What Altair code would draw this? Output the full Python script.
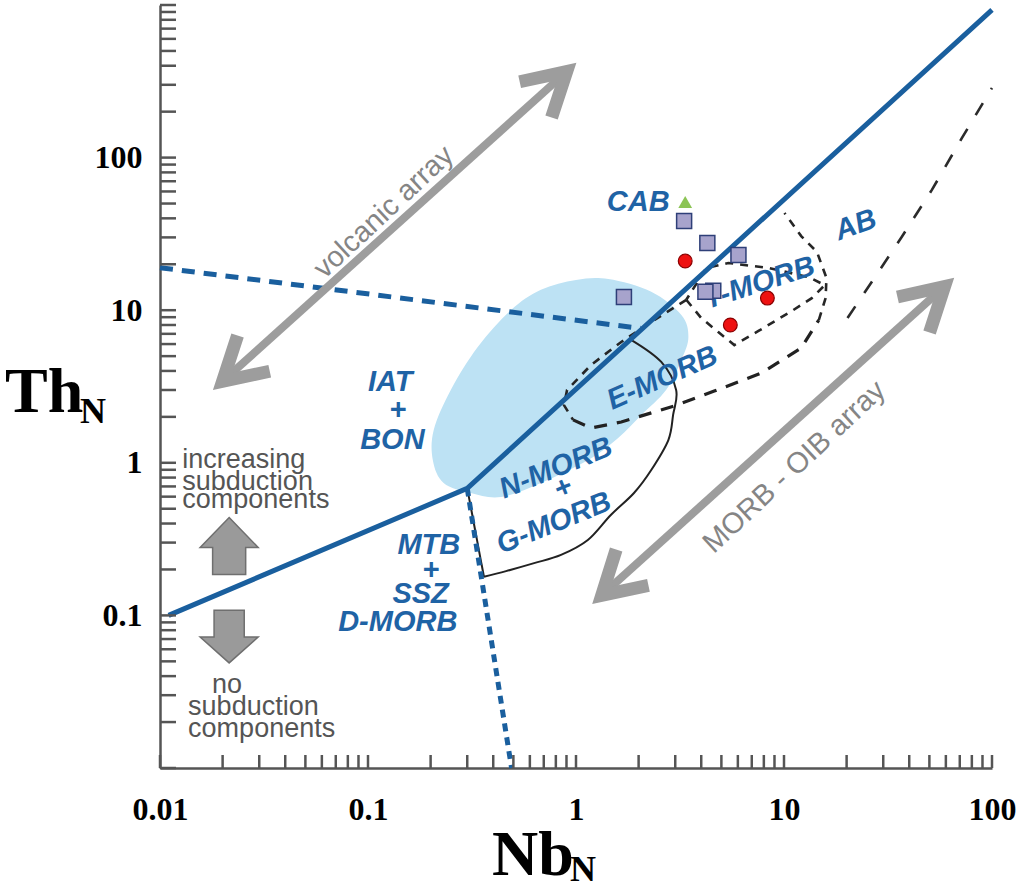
import altair as alt
import pandas as pd

# ---------------------------------------------------------------- scales
NB_DOMAIN = [0.01, 100]
TH_DOMAIN = [0.01, 1000]

NB_LABELS = [0.01, 0.1, 1, 10, 100]
TH_LABELS = [0.1, 1, 10, 100]
NB_TICKS = [k * 10.0 ** e for e in range(-2, 2) for k in range(1, 10)] + [100]
TH_TICKS = [k * 10.0 ** e for e in range(-2, 3) for k in range(1, 10)] + [1000]

# ---------------------------------------------------------------- colours
BLUE = "#1a5f9e"
LABEL_BLUE = "#1f63a5"
ARROW_GREY = "#9d9d9d"
AXIS_GREY = "#555555"
FIELD_FILL = "#bde2f4"

# ---------------------------------------------------------------- boundaries
# solid boundary of the MORB-OIB array
ARRAY_NB = [0.011, 0.30, 100]
ARRAY_TH = [0.10, 0.68, 930]
# dotted boundary below the kink
DOT_NB = [0.30, 0.49]
DOT_TH = [0.68, 0.01]
# dashed boundary from the Th axis
DASH_NB = [0.01, 2.05]
DASH_TH = [19.0, 7.6]

# IAT + BON field
IAT_NB = [0.205, 0.207, 0.250, 0.337, 0.486, 0.678, 1.0, 1.43, 2.30, 3.21,
          3.47, 3.21, 2.71, 2.06, 1.59, 1.14, 0.678, 0.436, 0.312, 0.231]
IAT_TH = [1.04, 1.64, 3.0, 5.74, 10.0, 13.6, 15.8, 16.0, 13.2, 9.3,
          6.67, 4.72, 3.0, 2.06, 1.45, 1.04, 0.738, 0.597, 0.634, 0.738]

# N-MORB + G-MORB field
NMORB_NB = [1.84, 2.57, 3.03, 2.93, 2.78, 2.30, 1.90, 1.47, 1.14, 0.847, 0.629, 0.461, 0.361]
NMORB_TH = [6.4, 4.58, 3.0, 2.06, 1.41, 0.897, 0.634, 0.455, 0.312, 0.249, 0.220, 0.195, 0.179]
NMORB_SIDE_NB = [0.361, 0.30]
NMORB_SIDE_TH = [0.179, 0.68]

# E-MORB field
EMORB_TOP_NB = [3.39, 2.30, 1.65, 1.18, 0.906, 0.875, 0.968]
EMORB_TOP_TH = [11.7, 8.37, 6.19, 4.37, 3.0, 2.39, 1.91]
EMORB_BASE_NB = [0.968, 1.18, 1.65, 2.97, 4.62, 7.79, 12.1, 14.7]
EMORB_BASE_TH = [1.91, 1.69, 1.85, 2.36, 2.95, 3.88, 5.65, 8.62]

# T-MORB field
TMORB_NB = [3.39, 4.00, 4.83, 5.77, 7.54, 10.9, 13.6, 15.7, 13.1, 8.42, 5.40, 4.23, 3.39]
TMORB_TH = [11.7, 8.89, 7.19, 5.91, 7.31, 9.88, 12.0, 14.6, 16.5, 18.9, 20.4, 18.9, 11.7]

# AB field edge
AB_NB = [14.7, 15.85, 16.0, 14.4, 12.1, 10.05]
AB_TH = [8.62, 12.0, 16.3, 24.1, 30.6, 43.4]

# OIB edge
OIB_NB = [20.2, 26.4, 36.8, 51.4, 71.6, 100]
OIB_TH = [8.89, 15.3, 30.2, 61.4, 134, 286]

# ---------------------------------------------------------------- trend arrows
VOLC_SHAFT_NB = [0.0200, 0.902]
VOLC_SHAFT_TH = [3.42, 366]
VOLC_HEAD_HI_NB = [0.536, 0.902, 0.763]
VOLC_HEAD_HI_TH = [314, 366, 183]
VOLC_HEAD_LO_NB = [0.0337, 0.0200, 0.0236]
VOLC_HEAD_LO_TH = [3.98, 3.42, 6.82]

OIBA_SHAFT_NB = [1.33, 59.1]
OIBA_SHAFT_TH = [0.1355, 14.3]
OIBA_HEAD_HI_NB = [35.1, 59.1, 50.1]
OIBA_HEAD_HI_TH = [12.2, 14.3, 7.15]
OIBA_HEAD_LO_NB = [2.23, 1.33, 1.56]
OIBA_HEAD_LO_TH = [0.1574, 0.1355, 0.270]

# ---------------------------------------------------------------- samples
CIRCLE_NB = [3.35, 5.52, 8.32]
CIRCLE_TH = [21.0, 8.0, 12.0]
SQUARE_NB = [3.31, 4.28, 6.04, 1.70, 4.57, 4.19]
SQUARE_TH = [38.4, 27.6, 23.0, 12.2, 13.4, 13.2]
TRIANGLE_NB = [3.35]
TRIANGLE_TH = [51.2]

# ---------------------------------------------------------------- field labels
FIELD_TEXT = ["CAB", "AB", "T-MORB", "E-MORB", "N-MORB", "+", "G-MORB",
              "IAT", "+", "BON", "MTB", "+", "SSZ", "D-MORB"]
FIELD_NB = [1.99, 22.1, 7.62, 2.6, 0.80, 0.865, 0.783,
            0.128, 0.139, 0.131, 0.196, 0.200, 0.179, 0.139]
FIELD_TH = [51.2, 36.2, 15.1, 3.6, 0.925, 0.684, 0.403,
            3.39, 2.22, 1.41, 0.289, 0.199, 0.138, 0.0906]
FIELD_ROT = [0, 340, 342, 336, 338, 338, 338, 0, 0, 0, 0, 0, 0, 0]

TREND_TEXT = ["volcanic array", "MORB - OIB array"]
TREND_NB = [0.119, 11.2]
TREND_TH = [44.0, 0.94]
TREND_ROT = [317, 317]

NOTE_TEXT = ["increasing", "subduction", "components", "no", "subduction", "components"]
NOTE_NB = [0.0128, 0.0128, 0.0128, 0.0178, 0.01365, 0.01365]
NOTE_TH = [0.925, 0.664, 0.506, 0.031, 0.0222, 0.01596]

BLOCK_NB = [0.0215]
BLOCK_UP_TH = [0.285]
BLOCK_DOWN_TH = [0.0727]
UP_ARROW = "M0,-0.98L1,0.05L0.57,0.05L0.57,0.98L-0.57,0.98L-0.57,0.05L-1,0.05Z"
DOWN_ARROW = "M-0.52,-0.91L0.52,-0.91L0.52,0.02L1,0.02L0,0.91L-1,0.02L-0.52,0.02Z"

# ---------------------------------------------------------------- encodings
NB_AXIS = alt.Axis(values=NB_LABELS, format="~g", title=None, ticks=False, tickSize=0,
                   grid=False, domainColor=AXIS_GREY, domainWidth=2.5,
                   labelFont="Liberation Serif", labelFontWeight="bold", labelFontSize=32,
                   labelColor="#000000", labelPadding=26, labelFlush=False,
                   labelOverlap=False)
TH_AXIS = alt.Axis(values=TH_LABELS, format="~g", title=None, ticks=False, tickSize=0,
                   grid=False, domainColor=AXIS_GREY, domainWidth=2.5,
                   labelFont="Liberation Serif", labelFontWeight="bold", labelFontSize=32,
                   labelColor="#000000", labelPadding=18, labelFlush=False,
                   labelOverlap=False)


def X():
    return alt.X("nb:Q", scale=alt.Scale(type="log", domain=NB_DOMAIN), axis=NB_AXIS)


def Y():
    return alt.Y("th:Q", scale=alt.Scale(type="log", domain=TH_DOMAIN), axis=TH_AXIS)


def path(nb, th, **mark):
    df = pd.DataFrame({"nb": nb, "th": th, "i": list(range(len(nb)))})
    return alt.Chart(df).mark_line(**mark).encode(x=X(), y=Y(), order="i:Q")


def points(nb, th, **mark):
    df = pd.DataFrame({"nb": nb, "th": th})
    return alt.Chart(df).mark_point(**mark).encode(x=X(), y=Y())


def labels(text, nb, th, rot, **mark):
    df = pd.DataFrame({"label": text, "nb": nb, "th": th, "rot": rot})
    return alt.Chart(df).mark_text(**mark).encode(
        x=X(), y=Y(), text="label:N", angle=alt.Angle("rot:Q", scale=None))


def axis_title(txt, px, py, size):
    return alt.Chart(pd.DataFrame({"t": [txt]})).mark_text(
        font="Liberation Serif", fontWeight="bold", fontSize=size, align="left",
        baseline="alphabetic", color="#000000"
    ).encode(x=alt.value(px), y=alt.value(py), text="t:N")


thin_dash = dict(color="#262626", strokeWidth=2.6, strokeDash=[8, 7])

layers = [
    # IAT + BON field
    path(IAT_NB, IAT_TH, fill=FIELD_FILL, strokeWidth=0, interpolate="cardinal-closed"),
    # MORB fields
    path(NMORB_NB, NMORB_TH, color="#222222", strokeWidth=2, interpolate="cardinal"),
    path(NMORB_SIDE_NB, NMORB_SIDE_TH, color="#222222", strokeWidth=2),
    path(EMORB_TOP_NB, EMORB_TOP_TH, **thin_dash),
    path(TMORB_NB, TMORB_TH, **thin_dash),
    path(AB_NB, AB_TH, **thin_dash),
    path(EMORB_BASE_NB, EMORB_BASE_TH, color="#222222", strokeWidth=3.2, strokeDash=[13, 10]),
    path(OIB_NB, OIB_TH, color="#2b2b2b", strokeWidth=2.6, strokeDash=[14, 16]),
    # blue boundaries
    path(DASH_NB, DASH_TH, color=BLUE, strokeWidth=5, strokeDash=[13, 9]),
    path(DOT_NB, DOT_TH, color=BLUE, strokeWidth=5, strokeDash=[8, 6]),
    path(ARRAY_NB, ARRAY_TH, color=BLUE, strokeWidth=5),
    # trend arrows
    path(VOLC_SHAFT_NB, VOLC_SHAFT_TH, color=ARROW_GREY, strokeWidth=8),
    path(VOLC_HEAD_HI_NB, VOLC_HEAD_HI_TH, color=ARROW_GREY, strokeWidth=13,
         strokeJoin="miter", strokeCap="butt"),
    path(VOLC_HEAD_LO_NB, VOLC_HEAD_LO_TH, color=ARROW_GREY, strokeWidth=13,
         strokeJoin="miter", strokeCap="butt"),
    path(OIBA_SHAFT_NB, OIBA_SHAFT_TH, color=ARROW_GREY, strokeWidth=8),
    path(OIBA_HEAD_HI_NB, OIBA_HEAD_HI_TH, color=ARROW_GREY, strokeWidth=13,
         strokeJoin="miter", strokeCap="butt"),
    path(OIBA_HEAD_LO_NB, OIBA_HEAD_LO_TH, color=ARROW_GREY, strokeWidth=13,
         strokeJoin="miter", strokeCap="butt"),
    # subduction block arrows
    points(BLOCK_NB, BLOCK_UP_TH, shape=UP_ARROW, filled=True, size=3364, fill="#9a9a9a",
           stroke="#6f6f6f", strokeWidth=1.5, opacity=1),
    points(BLOCK_NB, BLOCK_DOWN_TH, shape=DOWN_ARROW, filled=True, size=3364, fill="#9a9a9a",
           stroke="#6f6f6f", strokeWidth=1.5, opacity=1),
    # labels
    labels(FIELD_TEXT, FIELD_NB, FIELD_TH, FIELD_ROT, font="Liberation Sans", fontSize=29,
           fontWeight="bold", fontStyle="italic", color=LABEL_BLUE, align="center",
           baseline="middle"),
    labels(TREND_TEXT, TREND_NB, TREND_TH, TREND_ROT, font="Liberation Sans", fontSize=29,
           color="#858585", align="center", baseline="middle"),
    labels(NOTE_TEXT, NOTE_NB, NOTE_TH, [0] * len(NOTE_TEXT), font="Liberation Sans",
           fontSize=27, color="#555555", align="left", baseline="alphabetic"),
    # samples
    points(SQUARE_NB, SQUARE_TH, shape="square", filled=True, size=225, fill="#a7a3cc",
           stroke="#2e3f78", strokeWidth=1.5, opacity=1),
    points(CIRCLE_NB, CIRCLE_TH, shape="circle", filled=True, size=190, fill="#ee1111",
           stroke="#8a0000", strokeWidth=1.2, opacity=1),
    points(TRIANGLE_NB, TRIANGLE_TH, shape="triangle-up", filled=True, size=190,
           fill="#8cc455", opacity=1),
    # inward axis ticks
    alt.Chart(pd.DataFrame({"nb": NB_TICKS})).mark_rule(color=AXIS_GREY, strokeWidth=2.5).encode(
        x=X(), y=alt.value(763), y2=alt.value(750)),
    alt.Chart(pd.DataFrame({"th": TH_TICKS})).mark_rule(color=AXIS_GREY, strokeWidth=2.5).encode(
        y=Y(), x=alt.value(0), x2=alt.value(16)),
    # axis titles with subscripts
    axis_title("Th", -155, 407, 64),
    axis_title("N", -80, 418, 36),
    axis_title("Nb", 332, 870, 64),
    axis_title("N", 410, 876, 36),
]

chart = alt.layer(*layers).properties(
    width=832,
    height=763,
    padding={"left": 160, "top": 5, "right": 26, "bottom": 122},
    autosize=alt.AutoSizeParams(type="none"),
).configure_view(strokeWidth=0)

chart.save("out.html", embed_options={"renderer": "svg", "actions": False})
